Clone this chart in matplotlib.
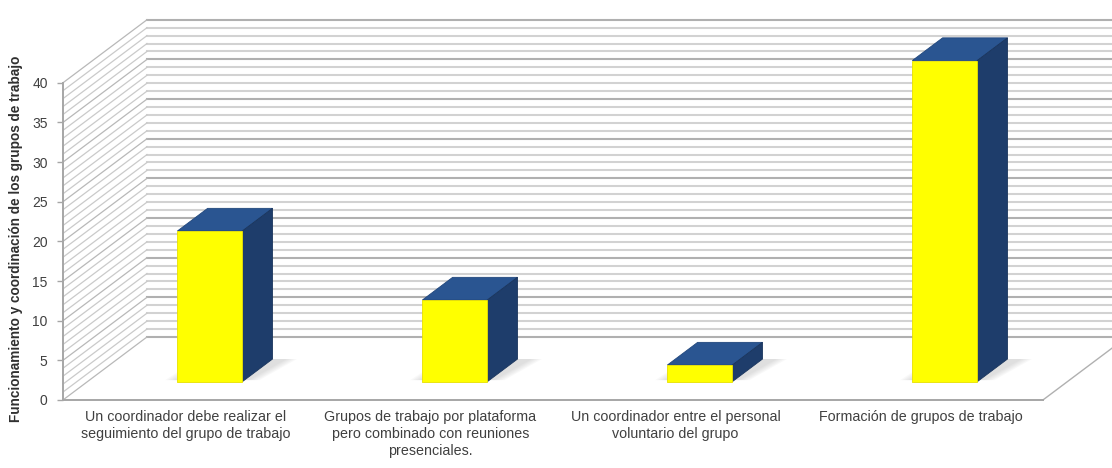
import matplotlib.pyplot as plt
from matplotlib.patches import Polygon

categories = [
    "Un coordinador debe realizar el\nseguimiento del grupo de trabajo",
    "Grupos de trabajo por plataforma\npero combinado con reuniones\npresenciales.",
    "Un coordinador entre el personal\nvoluntario del grupo",
    "Formación de grupos de trabajo",
]
values = [19.0, 10.3, 2.1, 40.5]
y_ticks = [0, 5, 10, 15, 20, 25, 30, 35, 40]
y_label = "Funcionamiento y coordinación de los grupos de trabajo"

# oblique "3d" look: offset of the back wall in data units
OX, OY = 0.343, 7.95
D0, DEPTH = 0.29, 0.36      # bar front depth and bar depth (fraction of wall depth)
W = 0.265                   # bar width
XMIN, XMAX = -0.757, 3.782
YMIN, YMAX = -8.575, 50.44

plt.rcParams['font.family'] = ['Liberation Sans', 'DejaVu Sans']

fig = plt.figure(figsize=(11.12, 4.68), dpi=100)
ax = fig.add_axes([0, 0, 1, 1])
ax.set_xlim(XMIN, XMAX)
ax.set_ylim(YMIN, YMAX)

# walls: back wall horizontal lines and side wall diagonals
for v in range(0, 41):
    major = v % 5 == 0
    col = '#b0b0b0' if major else '#d2d2d2'
    ax.plot([-0.5 + OX, XMAX], [v + OY, v + OY], color=col, lw=1.5, zorder=1)
    ax.plot([-0.5, -0.5 + OX], [v, v + OY], color='#b8b8b8' if major else '#cacaca',
            lw=0.9, zorder=1)
# floor right edge
ax.plot([3.5, 3.5 + OX], [0, OY], color='#b0b0b0', lw=1.0, zorder=1)

# bars
for i, v in enumerate(values):
    x0 = i + D0 * OX - W / 2
    y0 = D0 * OY
    dx, dy = DEPTH * OX, DEPTH * OY
    # soft shadow on the floor, mostly behind and right of the bar
    for k in range(5):
        e = 0.01 * k
        sh = Polygon([(x0 - 0.01 - e, y0 + 0.2), (x0 + W + 0.03 + e, y0 + 0.2),
                      (x0 + W + dx + 0.06 + e, y0 + dy),
                      (x0 + dx - e, y0 + dy)],
                     closed=True, facecolor='#808080', edgecolor='none', alpha=0.05, zorder=2)
        ax.add_patch(sh)
    ax.bar(x0 + W / 2, v, width=W, bottom=y0, color='#ffff00', edgecolor='#e8e000',
           lw=0.6, zorder=4)
    top = Polygon([(x0, y0 + v), (x0 + W, y0 + v), (x0 + W + dx, y0 + v + dy),
                   (x0 + dx, y0 + v + dy)], closed=True, facecolor='#2a5591',
                  edgecolor='#21477c', lw=0.6, zorder=3)
    side = Polygon([(x0 + W, y0), (x0 + W, y0 + v), (x0 + W + dx, y0 + v + dy),
                    (x0 + W + dx, y0 + dy)], closed=True, facecolor='#1e3d6b',
                   edgecolor='#1a355d', lw=0.6, zorder=3)
    ax.add_patch(top)
    ax.add_patch(side)

# axes spines as the front edges
for s in ['top', 'right']:
    ax.spines[s].set_visible(False)
ax.spines['left'].set_position(('data', -0.5))
ax.spines['left'].set_bounds(0, 40)
ax.spines['bottom'].set_position(('data', 0))
ax.spines['bottom'].set_bounds(-0.5, 3.5)
for s in ['left', 'bottom']:
    ax.spines[s].set_color('#a6a6a6')
    ax.spines[s].set_linewidth(1.4)
    ax.spines[s].set_zorder(5)

ax.set_yticks(y_ticks)
ax.tick_params(axis='y', length=4, width=1, color='#a6a6a6', pad=7,
               labelsize=10, labelcolor='#404040')
ax.set_xticks(range(len(categories)))
ax.set_xticklabels(categories, fontsize=10.3, color='#404040', linespacing=1.3)
ax.tick_params(axis='x', length=0, pad=7)

ax.set_ylabel(y_label, fontsize=9.8, fontweight='bold', color='#303030')
ax.yaxis.set_label_coords(0.021, 0.49)

fig.savefig('out.png', dpi=100)
